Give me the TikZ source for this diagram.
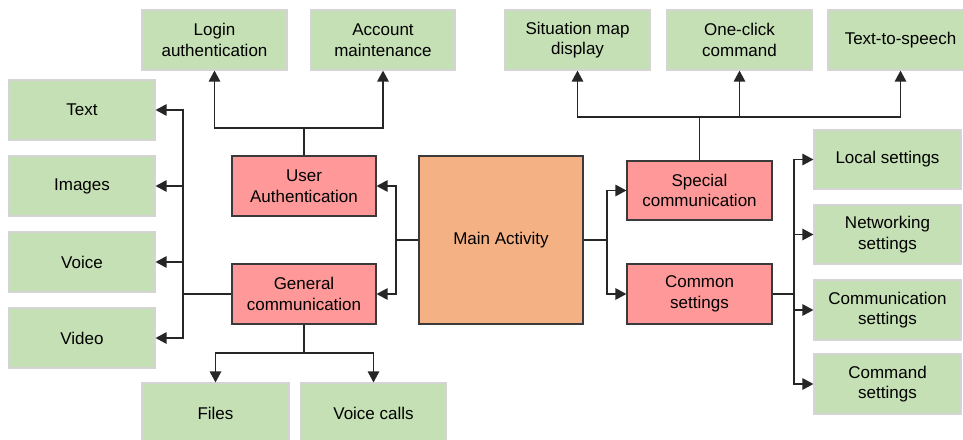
\documentclass[tikz,border=0pt]{standalone}
\usepackage{fontspec}
\setmainfont{Liberation Sans}
\usetikzlibrary{arrows.meta}
\definecolor{gfill}{HTML}{C5E0B4}
\definecolor{gline}{HTML}{D4D4D4}
\definecolor{rfill}{HTML}{FF9999}
\definecolor{ofill}{HTML}{F4B183}
\definecolor{dline}{HTML}{3A3A3A}
\tikzset{
  base/.style={align=center, inner sep=0pt, font=\fontsize{17}{20.5}\selectfont, text=black},
  leaf/.style={base, fill=gfill, draw=gline, line width=1.2pt, minimum width=145pt, minimum height=60pt},
  mid/.style={base, fill=rfill, draw=dline, line width=1.2pt, minimum width=144pt, minimum height=60pt},
  hub/.style={base, fill=ofill, draw=dline, line width=1.2pt},
  conn/.style={line width=1.4pt, draw=black!85},
  arr/.style={conn, -{Triangle[length=11pt,width=11.5pt]}},
}
\begin{document}
\begin{tikzpicture}[x=1pt,y=-1pt]
\useasboundingbox (0,0) rectangle (963,439);
\fill[white] (0,0) rectangle (963,439);
\clip (0,0) rectangle (963,439);
% top row
\node[leaf] (login) at (214.5,40) {Login\\authentication};
\node[leaf, minimum width=144pt] (account) at (383,40) {Account\\maintenance};
\node[leaf] (sitmap) at (577.5,40) {Situation map\\display};
\node[leaf] (oneclick) at (739.5,40) {One-click\\command};
\node[leaf] (tts) at (900.5,40) {Text-to-speech};
% left column
\node[leaf, minimum width=146pt] (text) at (82,110) {Text};
\node[leaf, minimum width=146pt] (images) at (82,186) {Images};
\node[leaf, minimum width=146pt] (voice) at (82,262) {Voice};
\node[leaf, minimum width=146pt] (video) at (82,338) {Video};
% middle
\node[mid] (userauth) at (304,186) {User\\Authentication};
\node[mid] (gencomm) at (304,294) {General\\communication};
\node[hub, minimum width=164pt, minimum height=168pt] (main) at (501,240) {Main Activity};
\node[mid, minimum width=145pt, minimum height=59pt] (special) at (699.5,190.5) {Special\\communication};
\node[mid, minimum width=145pt] (common) at (699.5,294) {Common\\settings};
% right column
\node[leaf, minimum width=147pt, minimum height=59pt] (local) at (887.5,159.5) {Local settings};
\node[leaf, minimum width=147pt, minimum height=59pt] (network) at (887.5,234.5) {Networking\\settings};
\node[leaf, minimum width=147pt] (commset) at (887.5,310) {Communication\\settings};
\node[leaf, minimum width=147pt] (cmdset) at (887.5,384) {Command\\settings};
% bottom
\node[leaf, minimum width=147pt] (files) at (215.5,413) {Files};
\node[leaf] (vcalls) at (373.5,413) {Voice calls};
% junctions
\coordinate (ua) at (304,128);
\coordinate (lb) at (183,294);
\coordinate (ml) at (396,240);
\coordinate (mr) at (607,240);
\coordinate (st) at (699.5,117);
\coordinate (rb) at (794,294);
\coordinate (gb) at (304,353);
% connectors
\draw[conn] (userauth.north) -- (ua);
\draw[arr] (ua) -| (login.south);
\draw[arr] (ua) -| (account.south);
\draw[conn] (gencomm.west) -- (lb);
\draw[arr] (lb) |- (text.east);
\draw[arr] (lb) |- (images.east);
\draw[arr] (lb) |- (voice.east);
\draw[arr] (lb) |- (video.east);
\draw[conn] (main.west |- ml) -- (ml);
\draw[arr] (ml) |- (userauth.east);
\draw[arr] (ml) |- (gencomm.east);
\draw[conn] (main.east |- mr) -- (mr);
\draw[arr] (mr) |- (special.west);
\draw[arr] (mr) |- (common.west);
\draw[conn] (special.north) -- (st);
\draw[arr] (st) -| (sitmap.south);
\draw[arr] (st) -| (oneclick.south);
\draw[arr] (st) -| (tts.south);
\draw[conn] (common.east) -- (rb);
\draw[arr] (rb) |- (local.west);
\draw[arr] (rb) |- (network.west);
\draw[arr] (rb) |- (commset.west);
\draw[arr] (rb) |- (cmdset.west);
\draw[conn] (gencomm.south) -- (gb);
\draw[arr] (gb) -| (files.north);
\draw[arr] (gb) -| (vcalls.north);
\end{tikzpicture}
\end{document}
